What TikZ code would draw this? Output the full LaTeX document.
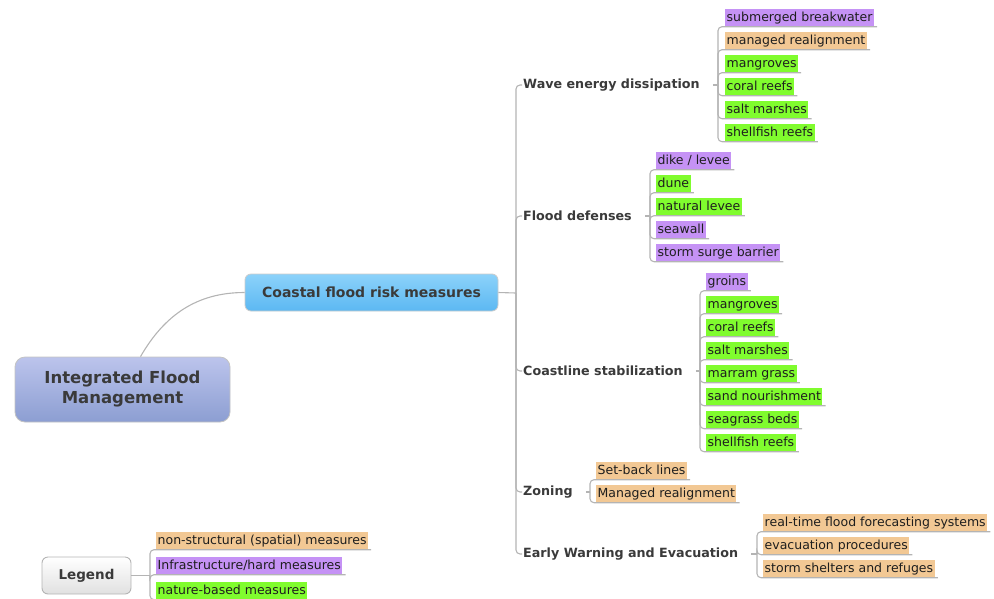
\documentclass[tikz,border=0pt]{standalone}
\usepackage{fontspec}
\setmainfont{DejaVu Sans}
\definecolor{linegray}{HTML}{B4B4B4}
\definecolor{textgray}{HTML}{3A3A3A}
\definecolor{leaftext}{HTML}{1E1E1E}
\definecolor{natgreen}{HTML}{80FC2E}
\definecolor{hardpurple}{HTML}{C592F5}
\definecolor{softtan}{HTML}{F2C894}
\definecolor{roottop}{HTML}{BCC4EC}
\definecolor{rootbot}{HTML}{8C9ED2}
\definecolor{centtop}{HTML}{8CD2FA}
\definecolor{centbot}{HTML}{5CB8F2}
\tikzset{
  conn/.style={draw=linegray, line width=1.1pt, rounded corners=4pt},
  catnode/.style={font=\fontsize{12.7}{15}\selectfont\bfseries, text=textgray, anchor=west, inner xsep=1pt, inner ysep=2pt},
  leaf/.style={font=\fontsize{12.5}{15}\selectfont, text=leaftext, anchor=west, inner xsep=1.5pt, inner ysep=2pt, text height=10.5pt, text depth=3.5pt},
  nat/.style={leaf, fill=natgreen},
  hard/.style={leaf, fill=hardpurple},
  soft/.style={leaf, fill=softtan},
}
\newcommand{\leafline}[2]{\draw[conn] (#1) |- ([xshift=3pt]#2.south east);}
\begin{document}
\begin{tikzpicture}[x=1pt,y=-1pt]
\useasboundingbox (0,0) rectangle (994,598);

% main nodes
\node[draw=linegray!80, line width=0.8pt, rounded corners=10pt, top color=roottop, bottom color=rootbot,
      minimum width=215pt, minimum height=65pt, align=center, text=textgray,
      font=\fontsize{16.5}{20}\selectfont\bfseries] (root) at (122.5,389.5) {Integrated Flood\\Management};
\node[draw=linegray!70, line width=0.8pt, rounded corners=6pt, top color=centtop, bottom color=centbot,
      minimum width=253pt, minimum height=37pt, text=textgray,
      font=\fontsize{14}{17}\selectfont\bfseries] (central) at (371.5,292.5) {Coastal flood risk measures};
\node[draw=linegray, line width=0.9pt, rounded corners=6pt, top color=white, bottom color=black!12,
      minimum width=89pt, minimum height=37pt, text=textgray,
      font=\fontsize{13.5}{16}\selectfont\bfseries] (legend) at (86.5,575.5) {Legend};

\draw[conn] ([xshift=18pt]root.north) to[out=60,in=180] (central.west);

% categories
\node[catnode] (wave) at (522,85) {Wave energy dissipation};
\node[catnode] (flood) at (522,216) {Flood defenses};
\node[catnode] (coast) at (522,371) {Coastline stabilization};
\node[catnode] (zone) at (522,492) {Zoning};
\node[catnode] (warn) at (522,554) {Early Warning and Evacuation};

\coordinate (trunk) at (516,293);
\draw[conn] (central.east) -- (trunk);
\foreach \c in {wave,flood,coast,zone,warn} {\draw[conn] (trunk) |- (\c.west);}

% Wave energy dissipation
\node[hard] (w1) at (725,17.5) {submerged breakwater};
\node[soft] (w2) at (725,40.5) {managed realignment};
\node[nat] (w3) at (725,63.5) {mangroves};
\node[nat] (w4) at (725,86.5) {coral reefs};
\node[nat] (w5) at (725,109.5) {salt marshes};
\node[nat] (w6) at (725,132.5) {shellfish reefs};
\coordinate (bw) at (718,85);
\draw[conn] ([xshift=12pt]wave.east) -- (bw);
\foreach \l in {w1,w2,w3,w4,w5,w6} {\leafline{bw}{\l}}

% Flood defenses
\node[hard] (f1) at (656,160.5) {dike / levee};
\node[nat] (f2) at (656,183.5) {dune};
\node[nat] (f3) at (656,206.5) {natural levee};
\node[hard] (f4) at (656,229.5) {seawall};
\node[hard] (f5) at (656,252.5) {storm surge barrier};
\coordinate (bf) at (650,216);
\draw[conn] ([xshift=12pt]flood.east) -- (bf);
\foreach \l in {f1,f2,f3,f4,f5} {\leafline{bf}{\l}}

% Coastline stabilization
\node[hard] (c1) at (706,281.5) {groins};
\node[nat] (c2) at (706,304.5) {mangroves};
\node[nat] (c3) at (706,327.5) {coral reefs};
\node[nat] (c4) at (706,350.5) {salt marshes};
\node[nat] (c5) at (706,373.5) {marram grass};
\node[nat] (c6) at (706,396.5) {sand nourishment};
\node[nat] (c7) at (706,419.5) {seagrass beds};
\node[nat] (c8) at (706,442.5) {shellfish reefs};
\coordinate (bc) at (700,371);
\draw[conn] ([xshift=12pt]coast.east) -- (bc);
\foreach \l in {c1,c2,c3,c4,c5,c6,c7,c8} {\leafline{bc}{\l}}

% Zoning
\node[soft] (z1) at (596,470.5) {Set-back lines};
\node[soft] (z2) at (596,493.5) {Managed realignment};
\coordinate (bz) at (590,492);
\draw[conn] ([xshift=12pt]zone.east) -- (bz);
\foreach \l in {z1,z2} {\leafline{bz}{\l}}

% Early warning
\node[soft] (e1) at (763,522.5) {real-time flood forecasting systems};
\node[soft] (e2) at (763,545.5) {evacuation procedures};
\node[soft] (e3) at (763,568.5) {storm shelters and refuges};
\coordinate (be) at (757,554);
\draw[conn] ([xshift=12pt]warn.east) -- (be);
\foreach \l in {e1,e2,e3} {\leafline{be}{\l}}

% Legend
\node[soft] (g1) at (156,540.5) {non-structural (spatial) measures};
\node[hard] (g2) at (156,565.5) {Infrastructure/hard measures};
\node[nat] (g3) at (156,590.5) {nature-based measures};
\coordinate (bg) at (150,575.5);
\draw[conn] (legend.east) -- (bg);
\foreach \l in {g1,g2,g3} {\leafline{bg}{\l}}
\end{tikzpicture}
\end{document}
